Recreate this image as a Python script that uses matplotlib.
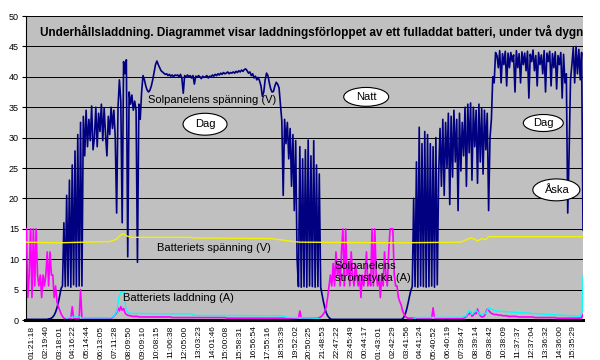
import numpy as np
import matplotlib
matplotlib.use('Agg')
import matplotlib.pyplot as plt
from matplotlib.patches import Ellipse

plt.rcParams['font.family'] = ['Liberation Sans', 'DejaVu Sans']

# tidpunkter under x-axeln
tider = ['01:21:18', '02:19:40', '03:18:01', '04:16:22', '05:14:44', '06:13:05',
         '07:11:28', '08:09:50', '09:09:10', '10:08:15', '11:06:38', '12:05:00',
         '13:03:23', '14:01:46', '15:00:08', '15:58:31', '16:56:54', '17:55:16',
         '18:53:39', '19:52:02', '20:50:25', '21:48:53', '22:47:22', '23:45:49',
         '00:44:17', '01:43:01', '02:42:29', '03:41:56', '04:41:24', '05:40:52',
         '06:40:19', '07:39:47', '08:39:14', '09:38:42', '10:38:09', '11:37:37',
         '12:37:04', '13:36:32', '14:36:00', '15:35:29']

# Solpanelens spänning (V), 10 mätvärden per etikettsteg (start en halv etikett före första)
sol_spanning = [
    0.1, 0.1, 0.1, 0.1, 0.1, 0.1, 0.1, 0.1, 0.1, 0.1,
    0.1, 0.1, 0.1, 0.1, 0.1, 0.1, 0.1, 0.2, 0.2, 0.3,
    0.5, 0.8, 1.3, 2.0, 2.9, 4.0, 5.2, 5.6, 16.0, 5.5,
    20.5, 5.6, 23.0, 5.4, 25.5, 5.8, 27.8, 5.5, 30.5, 5.6,
    32.5, 5.6, 33.5, 27.0, 34.5, 28.5, 33.0, 29.5, 35.2, 28.0,
    30.0, 35.0, 28.5, 34.0, 31.0, 35.5, 29.5, 34.8, 30.5, 27.0,
    33.5, 30.5, 35.0, 31.5, 34.5, 30.0, 17.6, 35.0, 39.5, 36.0,
    16.0, 42.5, 40.5, 42.8, 10.4, 37.5, 35.5, 37.0, 34.5, 36.0,
    34.5, 9.5, 35.5, 33.0, 37.5, 40.2, 39.5, 38.5, 37.8, 37.5,
    37.8, 38.5, 39.5, 40.8, 42.0, 42.6, 42.0, 41.5, 41.0, 40.8,
    40.6, 40.4, 40.5, 40.2, 40.4, 40.1, 40.3, 40.0, 40.3, 40.2,
    40.3, 40.0, 40.4, 39.8, 37.3, 40.2, 39.9, 40.3, 40.0, 40.2,
    39.8, 40.2, 38.8, 40.1, 39.9, 40.2, 40.0, 39.7, 40.1, 39.9,
    40.0, 40.2, 39.8, 40.1, 40.0, 40.3, 40.1, 40.4, 40.2, 40.5,
    40.3, 40.6, 40.4, 40.7, 40.5, 40.6, 40.8, 40.5, 40.7, 40.6,
    40.8, 40.6, 40.9, 40.7, 41.0, 40.8, 41.1, 40.9, 41.2, 41.3,
    41.0, 40.6, 40.8, 40.2, 40.5, 39.8, 40.1, 39.5, 39.9, 39.3,
    38.5, 36.8, 37.5, 39.5, 40.6, 40.2, 39.0, 38.0, 37.5, 37.6,
    38.5, 39.1, 38.8, 38.2, 35.5, 32.8, 20.5, 33.0, 29.0, 32.5,
    26.5, 31.5, 22.0, 30.5, 18.0, 29.5, 10.0, 5.5, 28.5, 5.4,
    26.5, 5.5, 28.0, 5.4, 29.6, 5.6, 27.0, 5.5, 29.5, 5.4,
    25.5, 5.5, 24.0, 5.4, 4.2, 3.0, 2.0, 1.2, 0.7, 0.4,
    0.2, 0.1, 0.1, 0.1, 0.1, 0.1, 0.1, 0.1, 0.1, 0.1,
    0.1, 0.1, 0.1, 0.1, 0.1, 0.1, 0.1, 0.1, 0.1, 0.1,
    0.1, 0.1, 0.1, 0.1, 0.1, 0.1, 0.1, 0.1, 0.1, 0.1,
    0.1, 0.1, 0.1, 0.1, 0.1, 0.1, 0.1, 0.1, 0.1, 0.1,
    0.1, 0.1, 0.1, 0.1, 0.1, 0.1, 0.1, 0.1, 0.1, 0.1,
    0.1, 0.1, 0.2, 0.5, 1.0, 1.8, 2.8, 3.9, 4.9, 5.5,
    20.0, 5.5, 26.0, 5.4, 31.7, 5.6, 29.0, 5.5, 31.0, 5.4,
    30.5, 5.5, 29.0, 5.6, 28.5, 5.4, 30.0, 5.8, 24.0, 31.5,
    22.0, 33.0, 20.5, 32.5, 25.0, 34.0, 19.0, 33.5, 23.5, 34.5,
    26.0, 33.0, 18.0, 34.0, 24.5, 32.5, 27.0, 35.0, 22.0, 35.5,
    27.5, 35.7, 23.0, 35.0, 28.5, 34.5, 22.5, 35.5, 26.0, 34.8,
    24.0, 34.5, 28.0, 34.0, 18.0, 30.0, 33.0, 40.0, 39.0, 44.0,
    43.5, 41.5, 44.3, 39.0, 43.8, 42.0, 44.2, 38.5, 43.9, 41.5,
    44.0, 42.5, 43.6, 37.5, 44.3, 41.5, 43.8, 39.0, 44.1, 42.0,
    43.9, 41.0, 44.2, 36.5, 43.7, 42.5, 44.4, 41.0, 43.5, 38.5,
    44.0, 42.0, 43.6, 40.5, 44.3, 37.5, 43.9, 42.5, 44.2, 38.5,
    43.8, 41.5, 44.1, 38.0, 43.5, 42.0, 44.0, 36.5, 43.7, 39.0,
    40.5, 17.6, 27.5, 39.5, 42.0, 44.8, 39.0, 45.0, 40.5, 44.5,
    39.5, 44.0, 14.8,
]

# Solpanelens strömstyrka (A), samma tidsraster
sol_strom = [
    15.0, 15.0, 3.7, 7.4, 15.0, 3.7, 15.0, 5.6, 15.0, 7.4,
    5.6, 7.4, 3.7, 7.4, 5.6, 7.4, 11.2, 5.6, 11.2, 7.4,
    7.4, 3.7, 5.6, 3.0, 2.2, 1.6, 1.0, 0.6, 0.3, 0.2,
    0.2, 0.2, 0.2, 0.2, 2.2, 0.2, 0.2, 0.2, 0.2, 0.3,
    5.0, 0.3, 0.3, 0.3, 0.3, 0.3, 0.3, 0.3, 0.3, 0.3,
    0.3, 0.3, 0.3, 0.3, 0.3, 0.3, 0.3, 0.3, 0.3, 0.3,
    0.3, 0.3, 0.3, 0.4, 0.6, 0.9, 1.2, 2.0, 1.5, 2.2,
    1.6, 1.9, 1.2, 0.9, 0.8, 0.7, 0.7, 0.6, 0.6, 0.6,
    0.6, 0.6, 0.5, 0.5, 0.5, 0.5, 0.5, 0.5, 0.5, 0.5,
    0.5, 0.5, 0.5, 0.5, 0.5, 0.5, 0.5, 0.5, 0.5, 0.5,
    0.5, 0.5, 0.5, 0.5, 0.5, 0.5, 0.4, 0.4, 0.4, 0.4,
    0.4, 0.4, 0.4, 0.4, 0.4, 0.4, 0.4, 0.4, 0.4, 0.4,
    0.4, 0.4, 0.4, 0.4, 0.4, 0.4, 0.4, 0.4, 0.4, 0.4,
    0.4, 0.4, 0.4, 0.4, 0.4, 0.4, 0.4, 0.4, 0.4, 0.4,
    0.4, 0.4, 0.4, 0.4, 0.4, 0.3, 0.3, 0.3, 0.3, 0.3,
    0.3, 0.3, 0.3, 0.3, 0.3, 0.3, 0.3, 0.3, 0.3, 0.3,
    0.3, 0.3, 0.3, 0.3, 0.3, 0.3, 0.3, 0.3, 0.3, 0.3,
    0.3, 0.3, 0.3, 0.3, 0.3, 0.3, 0.3, 0.3, 0.3, 0.3,
    0.3, 0.3, 0.3, 0.3, 0.3, 0.3, 0.3, 0.3, 0.3, 0.3,
    0.3, 0.3, 0.3, 0.3, 0.3, 0.3, 0.3, 0.3, 1.5, 0.3,
    0.3, 0.3, 0.3, 0.3, 0.3, 0.3, 0.3, 0.3, 0.3, 0.3,
    0.3, 0.3, 0.4, 0.5, 0.7, 1.0, 1.4, 2.2, 3.7, 5.6,
    7.4, 5.6, 9.3, 5.6, 11.2, 7.4, 9.3, 5.6, 11.2, 15.0,
    5.6, 15.0, 7.4, 9.3, 5.6, 11.2, 7.4, 5.6, 9.3, 7.4,
    5.6, 7.4, 3.7, 7.4, 5.6, 7.4, 11.2, 5.6, 7.4, 5.6,
    15.0, 5.6, 15.0, 7.4, 5.6, 7.4, 3.7, 7.4, 5.6, 11.2,
    7.4, 5.6, 11.2, 15.0, 15.0, 15.0, 7.4, 5.6, 5.6, 3.7,
    3.0, 2.5, 1.5, 1.0, 0.6, 0.4, 0.3, 0.3, 0.3, 0.3,
    0.3, 0.3, 0.3, 0.3, 0.3, 0.3, 0.3, 0.3, 0.3, 0.3,
    0.3, 0.3, 0.3, 0.3, 2.0, 0.3, 0.3, 0.3, 0.3, 0.3,
    0.3, 0.3, 0.3, 0.3, 0.3, 0.3, 0.3, 0.3, 0.3, 0.3,
    0.3, 0.3, 0.3, 0.3, 0.3, 0.3, 0.3, 0.4, 0.6, 0.9,
    1.0, 1.3, 0.6, 0.8, 1.2, 1.0, 1.8, 1.1, 0.7, 0.5,
    0.5, 0.7, 1.2, 1.8, 1.6, 1.3, 1.1, 1.0, 0.9, 0.9,
    0.9, 0.8, 0.8, 0.8, 0.7, 0.7, 0.7, 0.7, 0.6, 0.6,
    0.6, 0.6, 0.6, 0.6, 0.6, 0.5, 0.5, 0.5, 0.5, 0.5,
    0.5, 0.5, 0.5, 0.5, 0.5, 0.5, 0.5, 0.4, 0.4, 0.4,
    0.4, 0.4, 0.4, 0.4, 0.4, 0.4, 0.4, 0.4, 0.4, 0.4,
    0.4, 0.4, 0.4, 0.3, 0.3, 0.3, 0.3, 0.3, 0.3, 0.3,
    0.3, 0.3, 0.3, 0.3, 0.3, 0.3, 0.3, 0.3, 0.3, 0.3,
    0.3, 0.4, 0.9,
]

# Batteriets laddning (A): (position i etikettsteg, värde)
ladd_t = [-0.5, 2.45, 2.6, 3.1, 3.46, 3.6, 5.62, 5.9, 6.13, 6.27, 6.42, 6.63, 6.78,
          7.0, 8.5, 11.54, 11.64, 17.9, 18.4, 19.3, 20.5, 20.9, 27.4, 27.7, 31.0,
          31.3, 31.5, 31.7, 32.0, 32.3, 32.7, 32.9, 33.1, 33.4, 35.2, 37.3, 39.5,
          39.65, 39.7]
ladd_v = [0.05, 0.05, 0.4, 0.5, 0.5, 0.35, 0.35, 0.6, 1.5, 3.8, 4.6, 4.6, 1.5,
          1.1, 1.05, 1.0, 0.75, 0.7, 0.45, 0.35, 0.3, 0.05, 0.05, 0.4, 0.45,
          0.7, 1.6, 0.9, 1.6, 0.9, 1.1, 2.0, 1.8, 1.5, 1.2, 0.9, 0.6,
          1.5, 7.2]

# Batteriets spänning (V)
batt_t = [-0.5, 2.0, 5.6, 6.1, 6.4, 6.6, 6.85, 7.2, 11.4, 11.6, 17.2, 18.2, 18.8,
          19.3, 26.5, 30.9, 31.2, 31.6, 31.9, 32.1, 32.4, 32.7, 32.9, 33.7, 39.7]
batt_v = [12.8, 12.7, 12.9, 13.3, 14.0, 14.2, 13.8, 13.6, 13.6, 13.5, 13.4, 13.1, 12.9,
          12.8, 12.7, 12.8, 13.1, 13.5, 13.3, 13.0, 13.4, 13.2, 13.7, 13.7, 13.7]

# svart serie längs nollan
noll_t = [-0.5, 39.7]
noll_v = [0.0, 0.0]

t_rast = np.arange(len(sol_spanning)) * 0.1 - 0.5

fig = plt.figure(figsize=(6, 3.6), dpi=100)
ax = fig.add_axes([26 / 600, 1 - 320 / 360, 557 / 600, 304 / 360])
ax.set_facecolor('#C0C0C0')

ax.plot(t_rast, sol_spanning, color='#000080', lw=1.2, zorder=2)
ax.plot(t_rast, sol_strom, color='#FF00FF', lw=1.2, zorder=3)
ax.plot(ladd_t, ladd_v, color='#00FFFF', lw=1.0, zorder=4)
ax.plot(batt_t, batt_v, color='#F2F200', lw=1.0, zorder=5)
ax.plot(noll_t, noll_v, color='black', lw=2.2, zorder=6, clip_on=False)

ax.set_xlim(-0.43, 39.7)
ax.set_ylim(0, 50)
ax.set_yticks(np.arange(0, 51, 5))
ax.set_xticks(range(len(tider)))
ax.set_xticklabels(tider, rotation=90, fontsize=6)
ax.tick_params(axis='y', labelsize=6.5, length=3, pad=2)
ax.tick_params(axis='x', length=0, pad=4)
ax.yaxis.grid(True, color='black', lw=0.7)
ax.set_axisbelow(True)
for s in ['top', 'right', 'bottom']:
    ax.spines[s].set_visible(False)
ax.spines['left'].set_linewidth(0.8)

ax.text(0.025, 0.947, 'Underhållsladdning. Diagrammet visar laddningsförloppet av ett fulladdat batteri, under två dygn',
        transform=ax.transAxes, fontsize=8.5, fontweight='bold', ha='left', va='center', zorder=9)

# ovaler med text
for tx, ty, w, h, txt in [(12.47, 32.2, 3.17, 3.6, 'Dag'), (24.08, 36.7, 3.24, 3.1, 'Natt'),
                          (36.84, 32.4, 2.88, 2.8, 'Dag'), (37.78, 21.4, 3.39, 3.6, 'Åska')]:
    ax.add_patch(Ellipse((tx, ty), w, h, fc='white', ec='black', lw=0.8, zorder=7))
    ax.text(tx, ty, txt, fontsize=8, ha='center', va='center', zorder=8)

ax.text(12.98, 36.2, 'Solpanelens spänning (V)', fontsize=8, ha='center', va='center', zorder=8)
ax.text(13.1, 11.8, 'Batteriets spänning (V)', fontsize=8, ha='center', va='center', zorder=8)
ax.text(6.56, 3.6, 'Batteriets laddning (A)', fontsize=8, ha='left', va='center', zorder=8)
ax.text(21.8, 7.9, 'Solpanelens\nströmstyrka (A)', fontsize=8, ha='left', va='center',
        linespacing=1.25, zorder=8)

fig.savefig('out.png', dpi=100)
